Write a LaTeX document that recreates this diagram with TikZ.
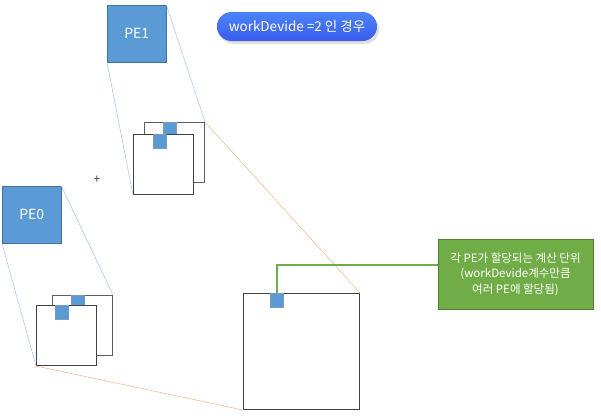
\documentclass[tikz,border=0pt]{standalone}
\usepackage{fontspec}
\setmainfont{Noto Sans CJK KR}
\usepackage{xcolor}
\usepackage{tikz}
\usetikzlibrary{positioning,calc,shadows}
\definecolor{peblue}{HTML}{5B9BD5}
\definecolor{peedge}{HTML}{41719C}
\definecolor{linkblue}{HTML}{9DC3E6}
\definecolor{maporange}{HTML}{F4B183}
\definecolor{notegreen}{HTML}{70AD47}
\definecolor{noteedge}{HTML}{507E32}
\definecolor{tileedge}{HTML}{404040}
\definecolor{pilltop}{HTML}{4C84F8}
\definecolor{pillbot}{HTML}{3B5CF0}
\tikzset{
  pebox/.style={rectangle,fill=peblue,draw=peedge,text=white,inner sep=0pt,
                minimum width=59pt,minimum height=57pt,anchor=north west,
                font=\fontsize{14}{16}\selectfont},
  tilebox/.style={rectangle,fill=white,draw=tileedge,line width=1pt,
                  inner sep=0pt,minimum size=60pt,anchor=north west},
  backbox/.style={tilebox,draw=tileedge!85},
  cellbox/.style={rectangle,fill=peblue,draw=peedge!70,line width=0.3pt,
                  inner sep=0pt,minimum width=13pt,minimum height=14pt,anchor=north west},
  pelink/.style={draw=linkblue,line width=0.5pt},
  maplink/.style={draw=maporange,line width=0.5pt},
  leader/.style={draw=notegreen,line width=2pt},
}

\begin{document}
\begin{tikzpicture}[x=1pt,y=-1pt]
  \useasboundingbox (0,0) rectangle (601,418);
  % title
  \node[rectangle,rounded corners=14.5pt,top color=pilltop,bottom color=pillbot,
        draw=none,text=white,minimum width=160pt,minimum height=29pt,
        drop shadow={shadow xshift=2pt,shadow yshift=-3pt,opacity=0.12,fill=black},
        font=\fontsize{13.5}{15}\selectfont] (title) at (297,26.5)
        {workDevide =2 인 경우};
  % PE1
  \node[pebox] (pe1) at (107,5) {PE1};
  \node[backbox] (back1) at (144,122) {};
  \node[cellbox] (bcell1) at (163,122) {};
  \node[tilebox] (front1) at (133,134) {};
  \node[cellbox] (fcell1) at (153,134) {};
  % PE0
  \node[pebox] (pe0) at (2,186) {PE0};
  \node[backbox] (back0) at (52,295) {};
  \node[cellbox] (bcell0) at (71,295) {};
  \node[tilebox] (front0) at (36,305) {};
  \node[cellbox] (fcell0) at (55,305) {};
  \node[text=tileedge,font=\fontsize{12}{12}\selectfont,inner sep=0pt] (plus) at (97,180) {+};
  % whole area
  \node[tilebox,minimum size=116pt] (tile) at (243,293) {};
  \node[cellbox] (tcell) at (270,293) {};
  % note
  \node[rectangle,fill=notegreen,draw=noteedge,text=white,align=center,
        minimum width=155pt,minimum height=70pt,inner sep=2pt,
        font=\fontsize{11.5}{15.5}\selectfont] (note) at (515.5,274)
        {각 PE가 할당되는 계산 단위\\(workDevide계수만큼\\여러 PE에 할당됨)};
  % connectors
  \draw[pelink] (pe1.north east) -- (back1.north east);
  \draw[pelink] (pe1.south west) -- (front1.south west);
  \draw[pelink] (pe0.north east) -- (back0.north east);
  \draw[pelink] (pe0.south west) -- (front0.south west);
  \draw[maplink] (back1.north east) -- (tile.north east);
  \draw[maplink] (front0.south west) -- (tile.south west);
  \draw[leader] (tcell.north) |- ([yshift=9pt]note.west);
\end{tikzpicture}
\end{document}
